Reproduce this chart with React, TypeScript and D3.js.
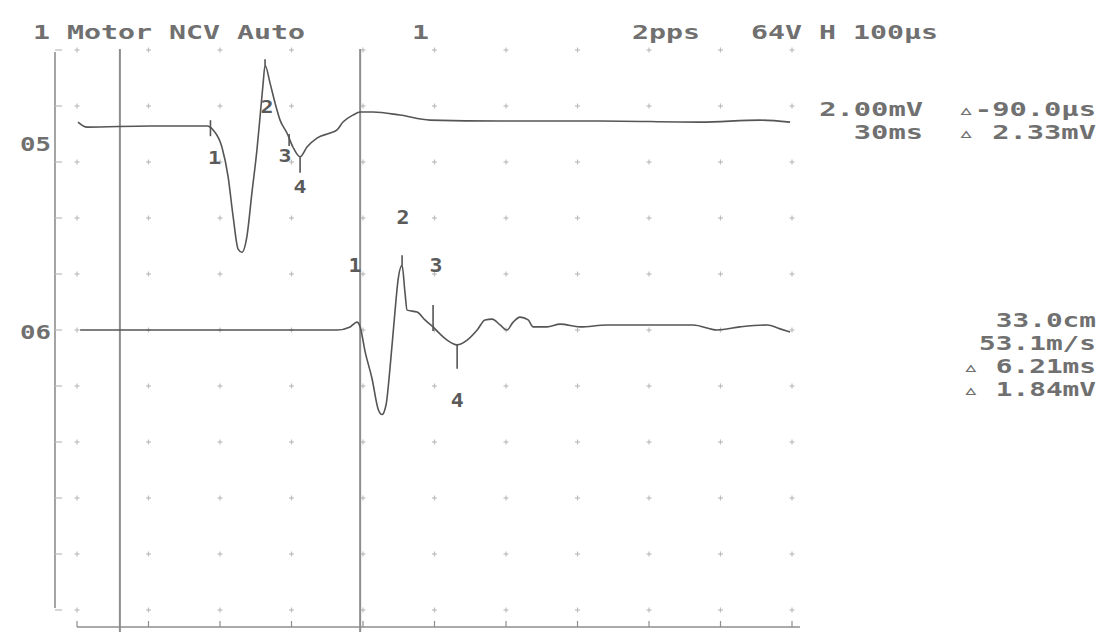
import { useMemo } from "react";
import * as d3 from "d3";

const W = 1101;
const H = 632;
const FONT = "'DejaVu Sans Mono', 'Liberation Mono', monospace";

// sweep: 30 ms across 10 divisions, 2 mV per division
const SWEEP_MS = [0, 30];
const GRID_DIVS = d3.range(0, 11);
const CURSOR_MS = [1.8, 11.88];

// [time ms, amplitude mV]
const TRACE_05: [number, number][] = [
  [0.04, 0.14], [0.42, -0.04], [3.06, 0], [5.46, 0], [5.71, -0.14], [6.08, -0.75],
  [6.34, -1.81], [6.55, -3.23], [6.76, -4.4], [6.92, -4.51], [7.13, -3.94], [7.34, -2.38],
  [7.55, -0.85], [7.68, 0.32], [7.81, 1.53], [7.89, 2.17], [8.1, 1.53], [8.31, 0.82],
  [8.52, 0.21], [8.81, -0.25], [9.06, -0.75], [9.36, -1.1], [9.65, -0.75], [10.07, -0.43],
  [10.62, -0.25], [10.91, -0.14], [11.16, 0.14], [11.58, 0.39], [11.88, 0.5], [12.42, 0.5],
  [13.55, 0.39], [14.81, 0.21], [17.75, 0.18], [21.95, 0.18], [26.14, 0.14], [28.66, 0.21],
  [29.92, 0.14],
];

const TRACE_06: [number, number][] = [
  [0.13, 0], [10.91, 0], [11.46, 0.11], [11.75, 0.28], [11.88, 0.11], [12.09, -0.78],
  [12.38, -1.74], [12.63, -2.81], [12.8, -3.02], [12.97, -2.66], [13.13, -1.39], [13.34, 0.64],
  [13.47, 1.78], [13.64, 2.31], [13.76, 1.35], [13.85, 0.71], [14.27, 0.64], [14.6, 0.36],
  [14.94, 0.11], [15.23, -0.14], [15.53, -0.36], [15.95, -0.53], [16.37, -0.36], [16.79, 0],
  [17.12, 0.36], [17.42, 0.39], [17.75, 0.18], [18.04, 0], [18.3, 0.28], [18.59, 0.46],
  [18.93, 0.36], [19.14, 0.11], [19.72, 0.11], [20.27, 0.21], [21.11, 0.11], [22.24, 0.18],
  [24.05, 0.18], [25.85, 0.18], [26.86, 0], [27.82, 0.11], [28.96, 0.18], [29.5, 0.04],
  [29.92, -0.07],
];

const MARKER_LABELS = ["1", "2", "3", "4"];
const MARKERS_05_MS = [5.6, 7.89, 8.9, 9.36];
const MARKERS_06_MS = [11.88, 13.64, 14.94, 15.95];

const HEADER_TEXT = ["1 Motor NCV Auto", "1", "2pps", "64V H 100μs"];
const CHANNEL_LABELS = ["05", "06"];
const INFO_05 = ["2.00mV  ▵-90.0μs", "  30ms  ▵ 2.33mV"];
const INFO_06 = ["33.0cm", "53.1m/s", "▵ 6.21ms", "▵ 1.84mV"];

// layout for marker ticks [y1, y2] and label [dx, baseline] (pixels, relative to the point)
const MARK_LAYOUT_05 = [
  { tick: [-8, 8], label: [4, 36] },
  { tick: [-6, 0], label: [2, 48] },
  { tick: [-4, 8], label: [-4, 24] },
  { tick: [0, 16], label: [0, 36] },
];
const MARK_LAYOUT_06 = [
  { tick: [0, 0], label: [-5, -55] },
  { tick: [-10, 0], label: [1, -41] },
  { tick: [-22, 4], label: [3, -55] },
  { tick: [0, 24], label: [0, 62] },
];

const C = {
  trace: "#555555",
  text: "#707070",
  grid: "#bdbdbd",
  axis: "#8e8e8e",
};

function Mono({ x, y, text, anchor = "start", cw = 17, size = 19, fill = C.text }: any) {
  const len = text.length * cw;
  const x0 = anchor === "end" ? x - len : anchor === "middle" ? x - len / 2 : x;
  return (
    <text
      x={x0}
      y={y}
      fontFamily={FONT}
      fontSize={size}
      fontWeight="bold"
      fill={fill}
      textLength={len}
      lengthAdjust="spacingAndGlyphs"
      style={{ whiteSpace: "pre" }}
    >
      {text}
    </text>
  );
}

export default function App() {
  const x = useMemo(() => d3.scaleLinear().domain(SWEEP_MS).range([77, 792]), []);
  const row = useMemo(() => d3.scaleLinear().domain([0, 10]).range([50, 610]), []);
  // 2 mV / div -> 28 px per mV, each channel with its own baseline
  const y05 = useMemo(() => d3.scaleLinear().domain([-5, 5]).range([126 + 140, 126 - 140]), []);
  const y06 = useMemo(() => d3.scaleLinear().domain([-5, 5]).range([330 + 140, 330 - 140]), []);

  const line05 = d3.line<[number, number]>().x((d) => x(d[0])).y((d) => y05(d[1])).curve(d3.curveMonotoneX);
  const line06 = d3.line<[number, number]>().x((d) => x(d[0])).y((d) => y06(d[1])).curve(d3.curveMonotoneX);

  const valueAt = (trace: [number, number][], t: number) => {
    const i = d3.bisector((d: [number, number]) => d[0]).left(trace, t);
    if (i <= 0) return trace[0][1];
    if (i >= trace.length) return trace[trace.length - 1][1];
    const a = trace[i - 1], b = trace[i];
    return a[1] + ((t - a[0]) / (b[0] - a[0])) * (b[1] - a[1]);
  };

  const gridTimes = GRID_DIVS.map((d) => (d * (SWEEP_MS[1] - SWEEP_MS[0])) / 10);

  const markers = (
    times: number[],
    layout: typeof MARK_LAYOUT_05,
    trace: [number, number][],
    ys: d3.ScaleLinear<number, number>,
    key: string,
    size: number
  ) =>
    times.map((t, i) => {
      const px = x(t);
      const py = ys(valueAt(trace, t));
      const lay = layout[i];
      return (
        <g key={key + i}>
          {lay.tick[0] !== lay.tick[1] && (
            <line x1={px} x2={px} y1={py + lay.tick[0]} y2={py + lay.tick[1]} stroke={C.trace} strokeWidth={1.6} />
          )}
          <Mono x={px + lay.label[0]} y={py + lay.label[1]} text={MARKER_LABELS[i]} anchor="middle" cw={13} size={size} fill="#5a5a5a" />
        </g>
      );
    });

  return (
    <div style={{ position: "fixed", left: 0, top: 0, width: W, height: H, background: "#fff" }}>
      <svg width={W} height={H} viewBox={`0 0 ${W} ${H}`}>
        <rect width={W} height={H} fill="#fff" />

        {/* grid marks */}
        <g stroke={C.grid} strokeWidth={1.2}>
          {GRID_DIVS.map((r) =>
            gridTimes.map((t, ci) => (
              <g key={`g${r}-${ci}`}>
                <line x1={x(t) - 2.5} x2={x(t) + 2.5} y1={row(r)} y2={row(r)} />
                <line x1={x(t)} x2={x(t)} y1={row(r) - 2.5} y2={row(r) + 2.5} />
              </g>
            ))
          )}
        </g>

        {/* left axis with row ticks */}
        <line x1={55} x2={55} y1={52} y2={608} stroke={C.axis} strokeWidth={1.6} />
        {GRID_DIVS.map((r) => (
          <line key={`lt${r}`} x1={55} x2={62} y1={row(r)} y2={row(r)} stroke={C.grid} strokeWidth={1.2} />
        ))}

        {/* bottom axis */}
        <line x1={x(0)} x2={x(30) + 8} y1={627} y2={627} stroke={C.axis} strokeWidth={1.4} />
        {gridTimes.map((t, i) => (
          <line key={`bt${i}`} x1={x(t)} x2={x(t)} y1={621} y2={627} stroke={C.axis} strokeWidth={1.2} />
        ))}

        {/* cursors */}
        {CURSOR_MS.map((t, i) => (
          <line key={`c${i}`} x1={x(t)} x2={x(t)} y1={49} y2={H} stroke={C.axis} strokeWidth={2} />
        ))}

        {/* traces */}
        <path d={line05(TRACE_05) ?? ""} fill="none" stroke={C.trace} strokeWidth={1.6} />
        <path d={line06(TRACE_06) ?? ""} fill="none" stroke={C.trace} strokeWidth={1.6} />

        {markers(MARKERS_05_MS, MARK_LAYOUT_05, TRACE_05, y05, "m05", 17)}
        {markers(MARKERS_06_MS, MARK_LAYOUT_06, TRACE_06, y06, "m06", 19)}

        {/* header */}
        <Mono x={33} y={39} text={HEADER_TEXT[0]} />
        <Mono x={412} y={39} text={HEADER_TEXT[1]} />
        <Mono x={632} y={39} text={HEADER_TEXT[2]} />
        <Mono x={751} y={39} text={HEADER_TEXT[3]} />

        {/* channel labels */}
        <Mono x={20} y={151} text={CHANNEL_LABELS[0]} cw={15.5} />
        <Mono x={20} y={339} text={CHANNEL_LABELS[1]} cw={15.5} />

        {/* measurement readouts */}
        {INFO_05.map((s, i) => (
          <Mono key={`i5${i}`} x={1096} y={116 + i * 23} text={s} anchor="end" cw={17.3} />
        ))}
        {INFO_06.map((s, i) => (
          <Mono key={`i6${i}`} x={1096} y={327 + i * 23} text={s} anchor="end" cw={16.7} />
        ))}
      </svg>
    </div>
  );
}
